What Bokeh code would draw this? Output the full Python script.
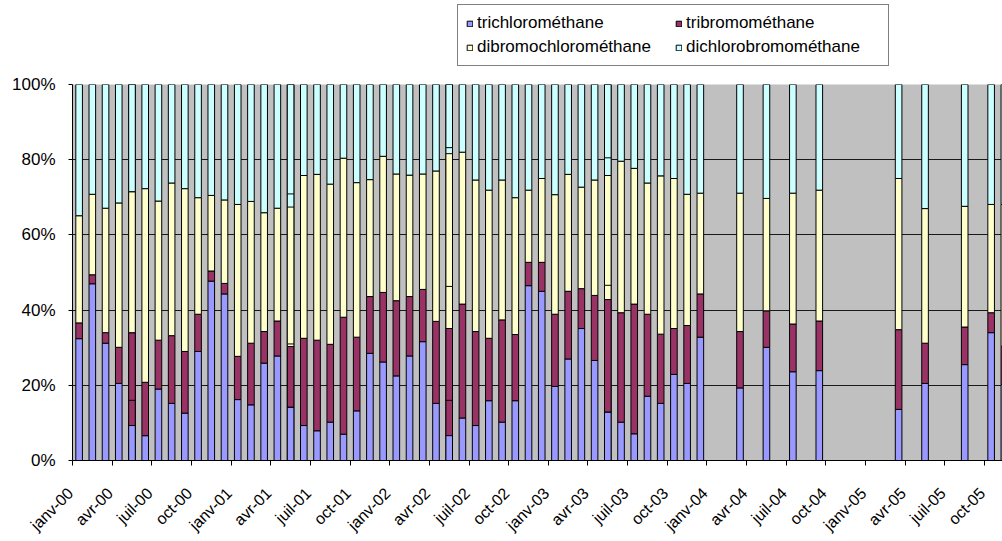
from math import pi
from bokeh.plotting import figure
from bokeh.layouts import column
from bokeh.models import ColumnDataSource, Range1d, FixedTicker, Legend, LegendItem
from bokeh.core.properties import value
from bokeh.embed import file_html
from bokeh.resources import INLINE

# ---- data (percent of total trihalomethanes per sample) ----
sample_months = [
    "2000-01", "2000-02", "2000-03", "2000-04", "2000-05", "2000-05", "2000-06", "2000-07",
    "2000-08", "2000-09", "2000-10", "2000-11", "2000-12",
    "2001-01", "2001-02", "2001-03", "2001-04", "2001-05", "2001-05", "2001-06", "2001-07",
    "2001-08", "2001-09", "2001-10", "2001-11", "2001-12",
    "2002-01", "2002-02", "2002-03", "2002-04", "2002-05", "2002-05", "2002-06", "2002-07",
    "2002-08", "2002-09", "2002-10", "2002-11", "2002-12",
    "2003-01", "2003-02", "2003-03", "2003-04", "2003-05", "2003-05", "2003-06", "2003-07",
    "2003-08", "2003-09", "2003-10", "2003-11", "2003-12",
    "2004-03", "2004-05", "2004-07", "2004-09",
    "2005-03", "2005-05", "2005-08", "2005-10", "2005-11",
]
trichloromethane = [
    32.4, 47.0, 31.2, 20.5, 9.3, 16.0, 6.6, 19.0, 15.2, 12.6, 29.0, 47.7, 44.3,
    16.2, 14.8, 25.9, 27.8, 14.2, 14.2, 9.3, 7.9, 10.2, 7.0, 13.2, 28.5, 26.2,
    22.5, 27.8, 31.6, 15.2, 6.6, 16.0, 11.3, 9.3, 15.9, 10.2, 15.9, 46.5, 45.0,
    19.7, 27.0, 35.1, 26.6, 12.9, 12.9, 10.2, 7.1, 17.1, 15.2, 22.9, 20.5, 32.8,
    19.3, 30.1, 23.6, 23.9,
    13.6, 20.5, 25.5, 34.0, 20.2,
]
tribromomethane = [
    4.2, 2.4, 2.8, 9.6, 24.7, 18.0, 14.2, 13.0, 18.0, 16.4, 9.9, 2.7, 2.8,
    11.5, 16.4, 8.4, 9.3, 16.1, 16.8, 23.2, 24.1, 20.7, 31.1, 19.6, 15.1, 18.5,
    20.0, 15.8, 13.9, 21.8, 28.5, 30.3, 30.3, 25.0, 16.6, 27.2, 17.6, 6.2, 7.7,
    19.2, 18.0, 10.6, 17.3, 29.9, 33.7, 29.1, 34.5, 21.8, 18.4, 12.2, 15.4, 11.5,
    15.0, 9.7, 12.7, 13.2,
    21.2, 10.7, 10.0, 5.3, 10.2,
]
dibromochloromethane = [
    28.5, 21.4, 33.1, 38.4, 37.5, 37.5, 51.5, 37.0, 40.6, 43.3, 31.0, 20.1, 22.2,
    40.4, 37.7, 31.6, 30.0, 37.1, 39.9, 43.3, 44.1, 42.6, 42.3, 41.1, 31.1, 36.2,
    33.7, 32.3, 30.7, 40.0, 46.5, 36.9, 40.4, 40.3, 39.4, 37.2, 36.4, 19.2, 22.3,
    31.8, 31.1, 27.0, 30.7, 33.0, 33.9, 40.3, 36.1, 34.9, 42.1, 39.9, 34.9, 26.8,
    36.8, 29.9, 34.8, 34.8,
    40.2, 35.8, 32.1, 28.8, 37.7,
]
dichlorobromomethane = [
    34.9, 29.2, 32.9, 31.5, 28.5, 28.5, 27.7, 31.0, 26.2, 27.7, 30.1, 29.5, 30.7,
    31.9, 31.1, 34.1, 32.9, 32.6, 29.1, 24.2, 23.9, 26.5, 19.6, 26.1, 25.3, 19.1,
    23.8, 24.1, 23.8, 23.0, 18.4, 16.8, 18.0, 25.4, 28.1, 25.4, 30.1, 28.1, 25.0,
    29.3, 23.9, 27.3, 25.4, 24.2, 19.5, 20.4, 22.3, 26.2, 24.3, 25.0, 29.2, 28.9,
    28.9, 30.3, 28.9, 28.1,
    25.0, 33.0, 32.4, 31.9, 31.9,
]

series_names = ["trichlorométhane", "tribromométhane", "dibromochlorométhane", "dichlorobromométhane"]
series_colors = ["#9999FF", "#993366", "#FFFFCC", "#CCFFFF"]

month_names = ["janv", "avr", "juil", "oct"]
tick_years = ["00", "01", "02", "03", "04", "05"]
tick_labels = [f"{m}-{y}" for y in tick_years for m in month_names]
y_tick_values = [0, 20, 40, 60, 80, 100]
y_tick_labels = ["0%", "20%", "40%", "60%", "80%", "100%"]

# ---- build ----
def month_pos(s):
    y, m = s.split("-")
    return (int(y) - 2000) * 12 + (int(m) - 1) + 0.5

keys = ["s0", "s1", "s2", "s3"]
src = ColumnDataSource(dict(
    x=[month_pos(s) for s in sample_months],
    s0=trichloromethane, s1=tribromomethane, s2=dibromochloromethane, s3=dichlorobromomethane,
))

W = 1002
LEFT = 72
LEG_H = 74        # legend strip
MAIN_H = 396      # chart (frame from y=84 to y=460)
LAB_H = 541 - LEG_H - MAIN_H   # rotated date labels strip
X_END = 70.36

x_range = Range1d(0, X_END)
tick_pos = list(range(0, 70, 3))

p = figure(width=W, height=MAIN_H, x_range=x_range, y_range=Range1d(0, 100),
           output_backend="svg", toolbar_location=None,
           min_border_left=LEFT, min_border_right=0, min_border_top=10, min_border_bottom=10,
           background_fill_color="#C0C0C0", border_fill_color="white", outline_line_color=None)
p.frame_align = False

renderers = p.vbar_stack(keys, x="x", width=0.5, source=src,
                         fill_color=series_colors, line_color="black", line_width=1)

# axes
p.xaxis.ticker = FixedTicker(ticks=tick_pos)
p.xaxis.major_label_overrides = {t: "" for t in tick_pos}
p.xaxis.major_label_text_font_size = "1px"
p.xaxis.major_label_standoff = 0
p.yaxis.ticker = FixedTicker(ticks=y_tick_values)
p.yaxis.major_label_overrides = {t: lab for t, lab in zip(y_tick_values, y_tick_labels)}
for ax in (p.xaxis[0], p.yaxis[0]):
    ax.axis_line_color = "black"
    ax.major_tick_line_color = "black"
    ax.major_tick_in = 0
    ax.minor_tick_line_color = None
    ax.major_label_text_font = "Liberation Sans"
    ax.major_label_text_color = "black"
p.xaxis.major_tick_out = 5
p.yaxis.major_tick_out = 4
p.yaxis.major_label_text_font_size = "17px"
p.yaxis.major_label_standoff = 13

p.xgrid.visible = False
p.ygrid.ticker = FixedTicker(ticks=y_tick_values)
p.ygrid.grid_line_color = "#1a1a1a"
p.ygrid.grid_line_width = 1

# ---- rotated date labels under the chart (same x scale, frame spans full width) ----
months_per_px = X_END / (W - LEFT)
ls = figure(width=W, height=LAB_H, x_range=Range1d(-LEFT * months_per_px, X_END),
            y_range=Range1d(0, 1),
            x_axis_type=None, y_axis_type=None, output_backend="svg", toolbar_location=None,
            min_border=0, outline_line_color=None,
            background_fill_color="white", border_fill_color="white")
ls.frame_align = False
ls.grid.visible = False
lab_src = ColumnDataSource(dict(x=tick_pos, y=[1] * len(tick_pos), text=tick_labels))
ls.text(x="x", y="y", text="text", source=lab_src, angle=pi / 4,
        text_align="right", text_baseline="middle", x_offset=-2, y_offset=20,
        text_font=value("Liberation Sans"), text_font_size="16px", text_color="black")

# ---- legend strip above the chart ----
lf = figure(width=W, height=LEG_H, x_range=Range1d(0, 1), y_range=Range1d(0, 1),
            x_axis_type=None, y_axis_type=None, output_backend="svg", toolbar_location=None,
            min_border=0, outline_line_color=None, background_fill_color="white",
            border_fill_color="white")
lf.frame_align = False
lf.grid.visible = False
# legend swatch renderers: one zero-height bar each, outside the visible range
swatches = [lf.vbar(x=[-5], top=[0], bottom=[0], width=0.5, fill_color=c,
                    line_color="black", line_width=1) for c in series_colors]

legend = Legend(
    items=[LegendItem(label=n, renderers=[r], index=0) for n, r in zip(series_names, swatches)],
    location=(457, 8), orientation="horizontal", ncols=2,
    label_text_font="Liberation Sans", label_text_font_size="17px", label_text_color="black",
    glyph_width=7, glyph_height=7, label_standoff=4, label_width=194, label_height=19,
    spacing=4, padding=8, margin=0,
    border_line_color="black", border_line_width=1,
    background_fill_color="white", background_fill_alpha=1,
)
lf.add_layout(legend)

layout = column(lf, p, ls, spacing=0)
open("out.html", "w").write(file_html(layout, INLINE))
